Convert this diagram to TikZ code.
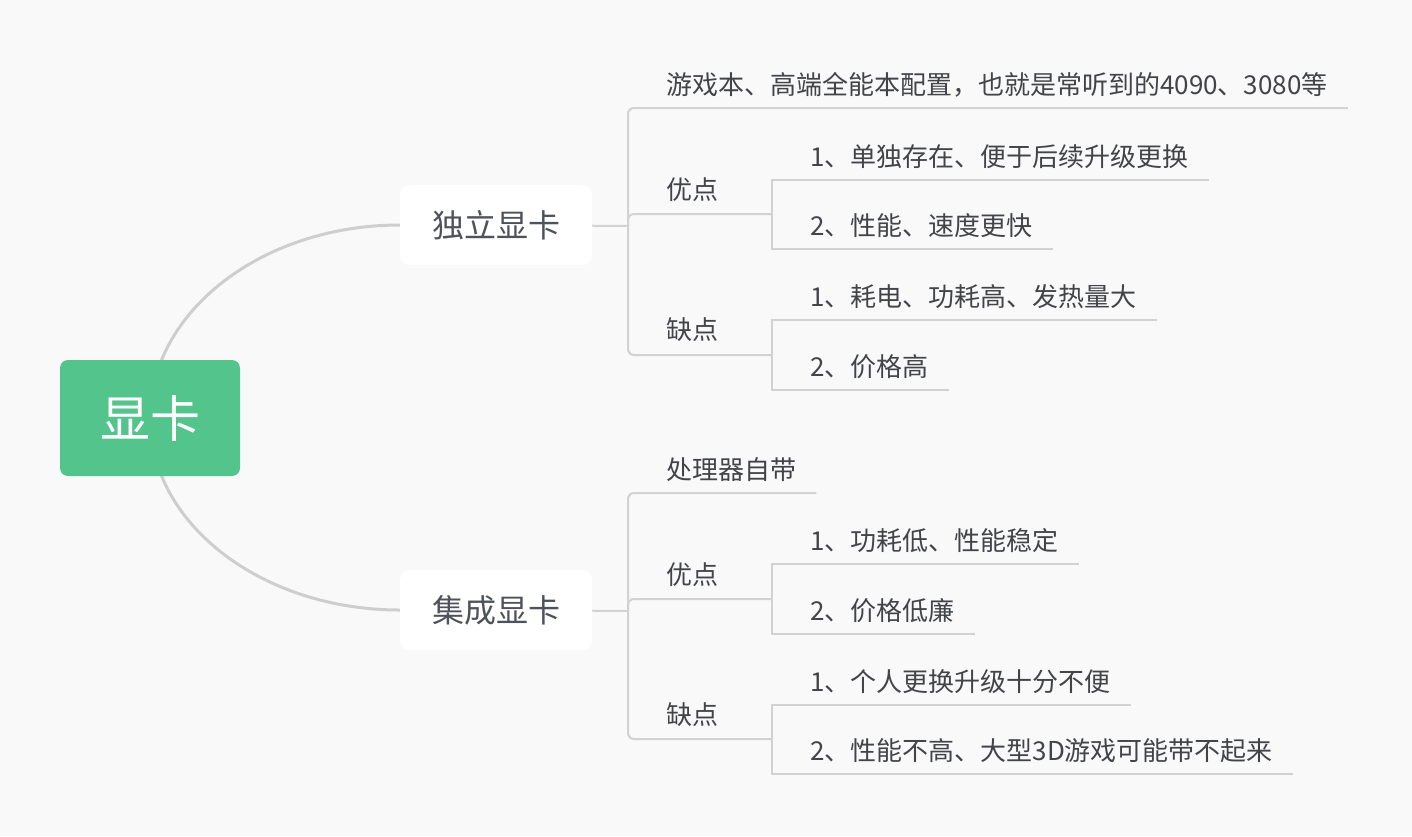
\documentclass[tikz,border=0pt]{standalone}
\usepackage{fontspec}
\newfontfamily\cjk{Noto Sans CJK SC}
\usetikzlibrary{calc}

\definecolor{bgc}{RGB}{249,249,249}
\definecolor{rootgreen}{RGB}{82,196,140}
\definecolor{linegray}{RGB}{210,210,210}
\definecolor{curvegray}{RGB}{206,206,206}
\definecolor{txtgray}{RGB}{66,68,72}
\definecolor{subgray}{RGB}{78,82,90}

\pgfdeclarelayer{bg}
\pgfdeclarelayer{lines}
\pgfsetlayers{bg,lines,main}

\tikzset{
	rootbox/.style={fill=rootgreen, rounded corners=8pt, minimum width=180pt, minimum height=116pt, text=white, font=\cjk\fontsize{50}{56}\selectfont},
	cardbox/.style={fill=white, rounded corners=10pt, minimum width=192pt, minimum height=80pt, text=subgray, font=\cjk\fontsize{32}{38}\selectfont},
	leaf/.style={anchor=west, inner sep=0pt, text=txtgray, font=\cjk\fontsize{26}{30}\selectfont},
	curveline/.style={draw=curvegray, line width=3pt},
	branchline/.style={draw=linegray, line width=2pt},
	elbowline/.style={branchline, rounded corners=6pt},
}

\begin{document}
\begin{tikzpicture}[x=1pt,y=1pt]
		\useasboundingbox (0,0) rectangle (1412,-836);
		\begin{pgfonlayer}{bg}
			\fill[bgc] (0,0) rectangle (1412,-836);
		\end{pgfonlayer}

		% Root
		\node[rootbox] (xk) at (150,-418) {显卡};
		% Main topics
		\node[cardbox] (dl) at (496,-225) {独立显卡};
		\node[cardbox] (jc) at (496,-610) {集成显卡};
		\coordinate (dlj) at (628,-226);
		\coordinate (jcj) at (628,-611);

		% Text Node: 独立显卡
		\node[leaf] (dl1) at (666,-85) {游戏本、高端全能本配置，也就是常听到的4090、3080等};
		\node[leaf] (dl2) at (666,-190) {优点};
		\node[leaf] (dl21) at (810,-157) {1、单独存在、便于后续升级更换};
		\node[leaf] (dl22) at (810,-226) {2、性能、速度更快};
		\node[leaf] (dl3) at (666,-330) {缺点};
		\node[leaf] (dl31) at (810,-297) {1、耗电、功耗高、发热量大};
		\node[leaf] (dl32) at (810,-367) {2、价格高};
		\coordinate (dl2j) at (772,-214);
		\coordinate (dl3j) at (772,-355);

		% Text Node: 集成显卡
		\node[leaf] (jc1) at (666,-470) {处理器自带};
		\node[leaf] (jc2) at (666,-575) {优点};
		\node[leaf] (jc21) at (810,-541) {1、功耗低、性能稳定};
		\node[leaf] (jc22) at (810,-611) {2、价格低廉};
		\node[leaf] (jc3) at (666,-715) {缺点};
		\node[leaf] (jc31) at (810,-682) {1、个人更换升级十分不便};
		\node[leaf] (jc32) at (810,-751) {2、性能不高、大型3D游戏可能带不起来};
		\coordinate (jc2j) at (772,-599);
		\coordinate (jc3j) at (772,-739);

		\begin{pgfonlayer}{lines}
			% Curves from root
			\draw[curveline] (xk.center) .. controls +(0,106) and +(-138,0) .. (dl.west);
			\draw[curveline] (xk.center) .. controls +(0,-106) and +(-138,0) .. (jc.west);

			% Brackets: 独立显卡
			\draw[branchline] (dl) -- (dlj);
			\draw[elbowline] (dlj) |- ($(dl1.east)+(20,-23)$);
			\draw[elbowline] (dlj) |- (dl2j);
			\draw[elbowline] (dlj) |- (dl3j);
			\draw[branchline] (dl2j) |- ($(dl21.east)+(20,-23)$);
			\draw[branchline] (dl2j) |- ($(dl22.east)+(20,-23)$);
			\draw[branchline] (dl3j) |- ($(dl31.east)+(20,-23)$);
			\draw[branchline] (dl3j) |- ($(dl32.east)+(20,-23)$);

			% Brackets: 集成显卡
			\draw[branchline] (jc) -- (jcj);
			\draw[elbowline] (jcj) |- ($(jc1.east)+(20,-23)$);
			\draw[elbowline] (jcj) |- (jc2j);
			\draw[elbowline] (jcj) |- (jc3j);
			\draw[branchline] (jc2j) |- ($(jc21.east)+(20,-23)$);
			\draw[branchline] (jc2j) |- ($(jc22.east)+(20,-23)$);
			\draw[branchline] (jc3j) |- ($(jc31.east)+(20,-23)$);
			\draw[branchline] (jc3j) |- ($(jc32.east)+(20,-23)$);
		\end{pgfonlayer}
\end{tikzpicture}
\end{document}
